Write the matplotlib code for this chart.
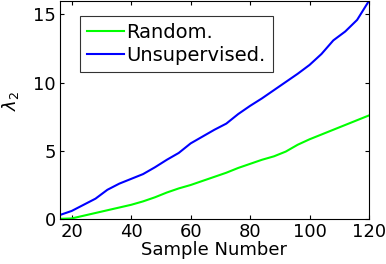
import numpy as np
import matplotlib
matplotlib.use('Agg')
import matplotlib.pyplot as plt

plt.rcParams['font.family'] = ['DejaVu Sans']
plt.rcParams['mathtext.fontset'] = 'dejavusans'

# sample numbers and lambda_2 values
samples = [16, 20, 24, 28, 32, 36, 40, 44, 48, 52, 56, 60, 64, 68, 72,
           76, 80, 84, 88, 92, 96, 100, 104, 108, 112, 116, 120]
random_vals = [0.02, 0.05, 0.25, 0.45, 0.65, 0.85, 1.05, 1.3, 1.6, 1.95,
               2.25, 2.5, 2.8, 3.1, 3.4, 3.75, 4.05, 4.35, 4.6, 4.95,
               5.45, 5.85, 6.2, 6.55, 6.9, 7.25, 7.6]
unsup_vals = [0.3, 0.6, 1.05, 1.5, 2.15, 2.6, 2.95, 3.3, 3.8, 4.35,
              4.85, 5.55, 6.05, 6.55, 7.0, 7.7, 8.3, 8.85, 9.45, 10.05,
              10.65, 11.3, 12.1, 13.1, 13.75, 14.6, 16.0]
labels = ['Random.', 'Unsupervised.']

fig = plt.figure(figsize=(3.86, 2.64), dpi=100)
ax = fig.add_axes([0.155, 0.17, 0.801, 0.827])

ax.plot(samples, random_vals, color='#00ff00', lw=1.5, label=labels[0])
ax.plot(samples, unsup_vals, color='#0000ff', lw=1.5, label=labels[1])

ax.set_xlim(16, 120)
ax.set_ylim(0, 16)
ax.set_xticks([20, 40, 60, 80, 100, 120])
ax.set_yticks([0, 5, 10, 15])
ax.tick_params(direction='in', top=True, right=True, length=3,
               labelsize=13, pad=3)
ax.set_xlabel('Sample Number', fontsize=13, labelpad=0)
ax.set_ylabel(r'$\lambda_2$', fontsize=13)
ax.yaxis.set_label_coords(-0.125, 0.54)

leg = ax.legend(loc='upper left', bbox_to_anchor=(0.065, 0.93), fontsize=14,
                frameon=True, fancybox=False, edgecolor='black',
                handlelength=1.9, handletextpad=0.15, borderpad=0.35,
                labelspacing=0.22, borderaxespad=0)
leg.get_frame().set_linewidth(0.8)

fig.savefig('out.png', dpi=100)
